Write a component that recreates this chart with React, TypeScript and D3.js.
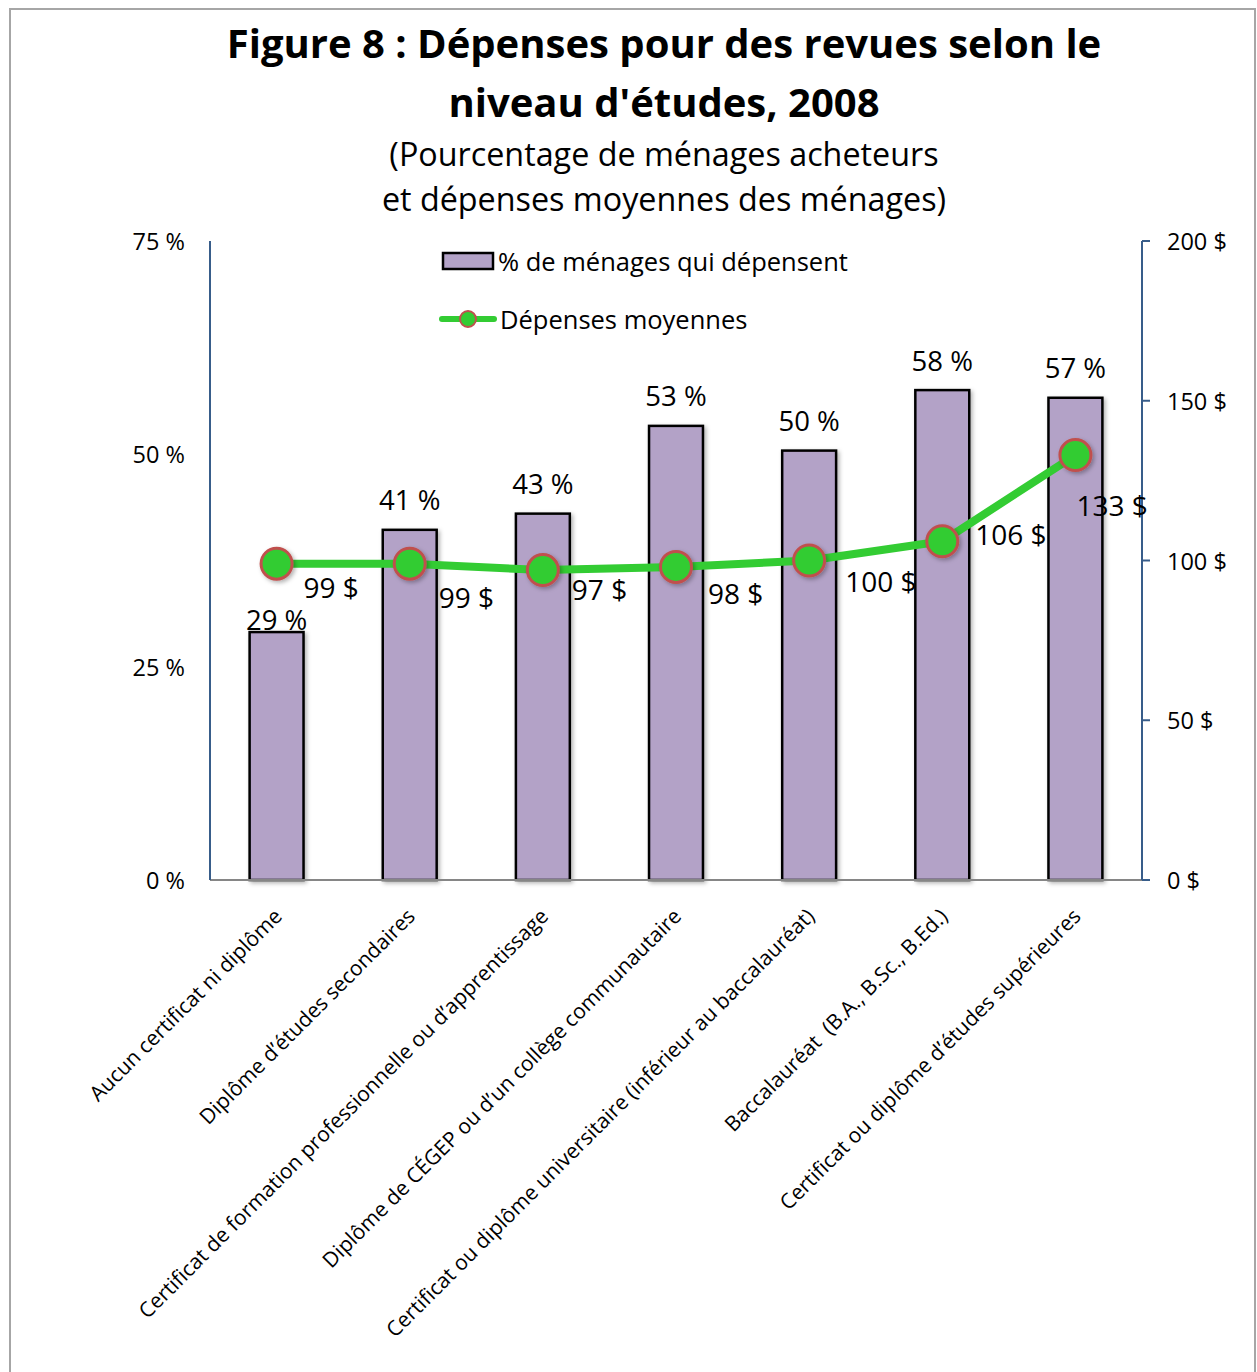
import React from "react";
import * as d3 from "d3";

const categories = [
  "Aucun certificat ni diplôme",
  "Diplôme d’études secondaires",
  "Certificat de formation professionnelle ou d’apprentissage",
  "Diplôme de CÉGEP ou d’un collège communautaire",
  "Certificat ou diplôme universitaire (inférieur au baccalauréat)",
  "Baccalauréat  (B.A., B.Sc., B.Ed.)",
  "Certificat ou diplôme d’études supérieures",
];
const pctMenages = [29.1, 41.1, 43.0, 53.3, 50.4, 57.5, 56.6];
const depensesMoy = [99, 99, 97, 98, 100, 106, 133];
const leftTicks = [0, 25, 50, 75];
const rightTicks = [0, 50, 100, 150, 200];
// label offsets for the line's data labels (dx, dy from the point)
const lineLabelOffsets: [number, number][] = [
  [27, 23], [29, 33], [29, 19], [32, 26], [36, 20], [33, -7], [1, 50],
];
// gap between bar top and its label centre
const barLabelGaps = [13, 30, 30, 30, 30, 30, 30];

const W = 1257, H = 1372;
const FONT = "'Open Sans', 'Noto Sans', sans-serif";

export default function App() {
  const left = 210, right = 1142, top = 241, bottom = 880;
  const x = d3.scaleBand<string>().domain(categories).range([left, right]).paddingInner(0).paddingOuter(0);
  const yL = d3.scaleLinear().domain([0, 75]).range([bottom, top]);
  const yR = d3.scaleLinear().domain([0, 200]).range([bottom, top]);
  const bw = x.bandwidth() * 0.405;
  const cx = (c: string) => (x(c) as number) + x.bandwidth() / 2;
  const line = d3.line<number>().x((_, i) => cx(categories[i])).y((d) => yR(d));

  return (
    <svg width={W} height={H} style={{ position: "absolute", left: 0, top: 0 }} fontFamily={FONT}>
      <defs>
        <filter id="sh" x="-30%" y="-30%" width="160%" height="160%">
          <feDropShadow dx="2" dy="2" stdDeviation="2" floodColor="#000" floodOpacity="0.3" />
        </filter>
      </defs>
      <rect x={0} y={0} width={W} height={H} fill="#fff" />
      <rect x={10} y={9} width={1245} height={1400} fill="#fff" stroke="#a6a6a6" strokeWidth={2} />

      <text x={664} y={42} textAnchor="middle" dominantBaseline="central" fontSize={40} fontWeight="bold">
        Figure 8 : Dépenses pour des revues selon le
      </text>
      <text x={664} y={101} textAnchor="middle" dominantBaseline="central" fontSize={40} fontWeight="bold">
        niveau d'études, 2008
      </text>
      <text x={664} y={153} textAnchor="middle" dominantBaseline="central" fontSize={32.3}>
        (Pourcentage de ménages acheteurs
      </text>
      <text x={664} y={198} textAnchor="middle" dominantBaseline="central" fontSize={32.3}>
        et dépenses moyennes des ménages)
      </text>

      {/* bars */}
      {pctMenages.map((v, i) => (
        <g key={i}>
          <rect
            x={cx(categories[i]) - bw / 2}
            y={yL(v)}
            width={bw}
            height={yL(0) - yL(v)}
            fill="#b3a2c7"
            stroke="#000"
            strokeWidth={2.5}
            filter="url(#sh)"
          />
          <text x={cx(categories[i])} y={yL(v) - barLabelGaps[i]} textAnchor="middle" dominantBaseline="central" fontSize={27.5}>
            {`${d3.format(".0f")(v)} %`}
          </text>
        </g>
      ))}

      {/* axes */}
      <line x1={left} x2={right} y1={bottom} y2={bottom} stroke="#868686" strokeWidth={2} />
      <line x1={left} x2={left} y1={top} y2={bottom} stroke="#385d8a" strokeWidth={2} />
      <line x1={right} x2={right} y1={top} y2={bottom} stroke="#385d8a" strokeWidth={2} />
      {leftTicks.map((t) => (
        <text key={t} x={185} y={yL(t)} textAnchor="end" dominantBaseline="central" fontSize={23.5}>
          {`${t} %`}
        </text>
      ))}
      {rightTicks.map((t) => (
        <g key={t}>
          <line x1={right} x2={right + 8} y1={yR(t)} y2={yR(t)} stroke="#385d8a" strokeWidth={2} />
          <text x={1167} y={yR(t)} textAnchor="start" dominantBaseline="central" fontSize={23.5}>
            {`${t} $`}
          </text>
        </g>
      ))}

      {/* category labels */}
      {categories.map((c) => (
        <text
          key={c}
          transform={`translate(${cx(c) + 1},${912}) rotate(-45)`}
          textAnchor="end"
          dominantBaseline="central"
          fontSize={21}
          style={{ whiteSpace: "pre" }}
        >
          {c}
        </text>
      ))}

      {/* line */}
      <path d={line(depensesMoy) || ""} fill="none" stroke="#33cc33" strokeWidth={8} strokeLinejoin="round" />
      {depensesMoy.map((v, i) => (
        <circle key={i} cx={cx(categories[i])} cy={yR(v)} r={15.5} fill="#33cc33" stroke="#c0504d" strokeWidth={3} filter="url(#sh)" />
      ))}
      {depensesMoy.map((v, i) => (
        <text
          key={i}
          x={cx(categories[i]) + lineLabelOffsets[i][0]}
          y={yR(v) + lineLabelOffsets[i][1]}
          dominantBaseline="central"
          fontSize={28}
        >
          {`${v} $`}
        </text>
      ))}

      {/* legend */}
      <rect x={443} y={253} width={50} height={16} fill="#b3a2c7" stroke="#000" strokeWidth={2.5} />
      <text x={498} y={261} dominantBaseline="central" fontSize={25.5}>% de ménages qui dépensent</text>
      <line x1={442} x2={494} y1={319} y2={319} stroke="#33cc33" strokeWidth={6} strokeLinecap="round" />
      <circle cx={468} cy={319} r={8} fill="#33cc33" stroke="#c0504d" strokeWidth={2} />
      <text x={500} y={319} dominantBaseline="central" fontSize={25.5}>Dépenses moyennes</text>
    </svg>
  );
}
